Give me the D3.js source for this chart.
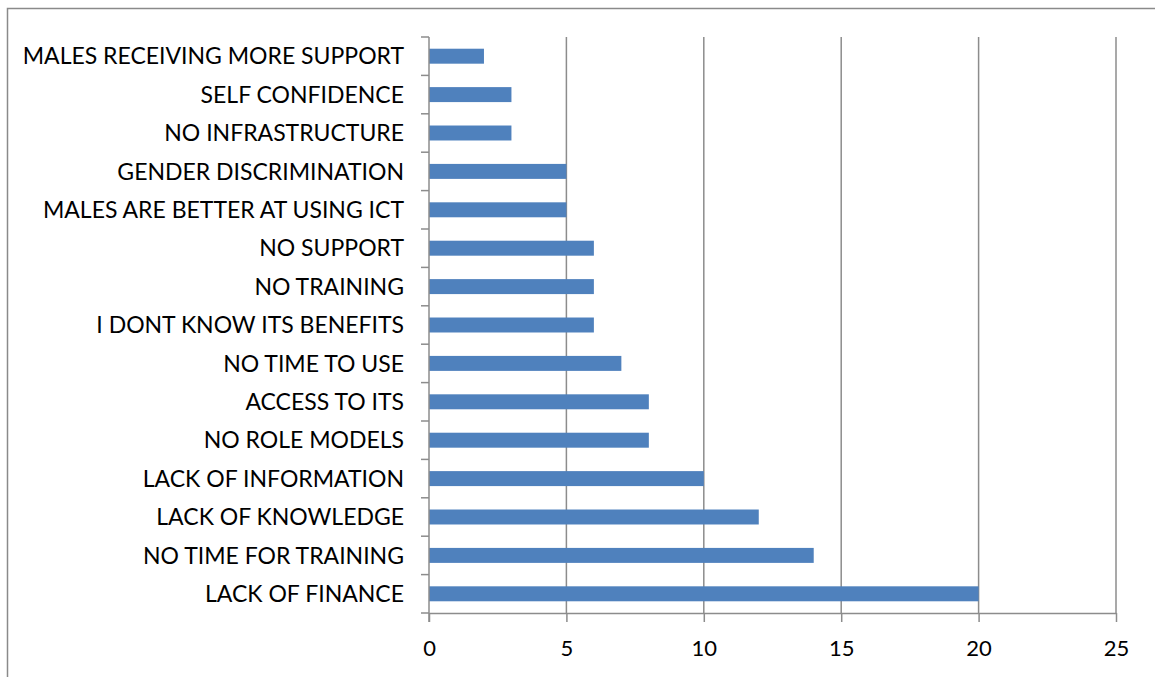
<!DOCTYPE html>
<html>
<head>
<meta charset="utf-8">
<script src="https://cdn.jsdelivr.net/npm/d3@7"></script>
<style>
  html, body { margin: 0; padding: 0; background: #fff; }
  svg { display: block; }
  text { font-family: "Lato", "Open Sans", sans-serif; fill: #000; }
</style>
</head>
<body>
<svg id="chart" width="1155" height="677"></svg>
<script>
// Barriers, listed top to bottom, with their response counts
const categories = [
  "MALES RECEIVING MORE SUPPORT",
  "SELF CONFIDENCE",
  "NO INFRASTRUCTURE",
  "GENDER DISCRIMINATION",
  "MALES ARE BETTER AT USING ICT",
  "NO SUPPORT",
  "NO TRAINING",
  "I DONT KNOW ITS BENEFITS",
  "NO TIME TO USE",
  "ACCESS TO ITS",
  "NO ROLE MODELS",
  "LACK OF INFORMATION",
  "LACK OF KNOWLEDGE",
  "NO TIME FOR TRAINING",
  "LACK OF FINANCE"
];
const values = [2, 3, 3, 5, 5, 6, 6, 6, 7, 8, 8, 10, 12, 14, 20];
const xTicks = [0, 5, 10, 15, 20, 25];

const svg = d3.select("#chart");
const W = 1155, H = 677;
const plot = { left: 429, right: 1116, top: 37, bottom: 613 };
const gridColor = "#8c8c8c";

// outer frame (only top and left edges fall inside the canvas)
svg.append("path")
  .attr("d", `M7.5,${H} V8.5 H${W}`)
  .attr("fill", "none")
  .attr("stroke", "#8a8a8a")
  .attr("stroke-width", 1.5);

const x = d3.scaleLinear().domain([0, 25]).range([plot.left, plot.right]);
const y = d3.scaleBand().domain(categories).range([plot.top, plot.bottom])
  .paddingInner(0.61).paddingOuter(0.305);
const yb = d3.scaleBand().domain(categories).range([plot.top, plot.bottom]);

// vertical gridlines
svg.append("g").selectAll("line")
  .data(xTicks.filter(t => t > 0))
  .join("line")
  .attr("x1", d => x(d)).attr("x2", d => x(d))
  .attr("y1", plot.top).attr("y2", plot.bottom)
  .attr("stroke", gridColor).attr("stroke-width", 1.5);

// bars
svg.append("g").selectAll("rect")
  .data(categories.map((c, i) => ({ c, v: values[i] })))
  .join("rect")
  .attr("x", x(0))
  .attr("y", d => y(d.c))
  .attr("width", d => x(d.v) - x(0))
  .attr("height", y.bandwidth())
  .attr("fill", "#4f81bd");

// x axis
const xAxis = svg.append("g")
  .attr("transform", `translate(0,${plot.bottom})`)
  .call(d3.axisBottom(x).tickValues(xTicks).tickSize(9).tickPadding(18).tickSizeOuter(0));
xAxis.select(".domain").attr("stroke", gridColor).attr("stroke-width", 1.5);
xAxis.selectAll(".tick line").attr("stroke", gridColor).attr("stroke-width", 1.5);
xAxis.selectAll(".tick text").style("font-size", "22px").style("font-family", "Lato, 'Open Sans', sans-serif").attr("fill", "#000");

// y axis: ticks sit on category boundaries
const yAxis = svg.append("g").attr("transform", `translate(${plot.left},0)`);
yAxis.append("line")
  .attr("x1", 0).attr("x2", 0).attr("y1", plot.top).attr("y2", plot.bottom + 9)
  .attr("stroke", gridColor).attr("stroke-width", 1.5);
const bounds = categories.map(c => yb(c)).concat([plot.bottom]);
yAxis.selectAll("line.tk")
  .data(bounds)
  .join("line").attr("class", "tk")
  .attr("x1", -8).attr("x2", 0)
  .attr("y1", d => d).attr("y2", d => d)
  .attr("stroke", gridColor).attr("stroke-width", 1.5);
yAxis.selectAll("text")
  .data(categories)
  .join("text")
  .attr("x", 404 - plot.left)
  .attr("y", d => yb(d) + yb.bandwidth() / 2)
  .attr("dy", "0.36em")
  .attr("text-anchor", "end")
  .style("font-size", "23px")
  .text(d => d);
</script>
</body>
</html>
